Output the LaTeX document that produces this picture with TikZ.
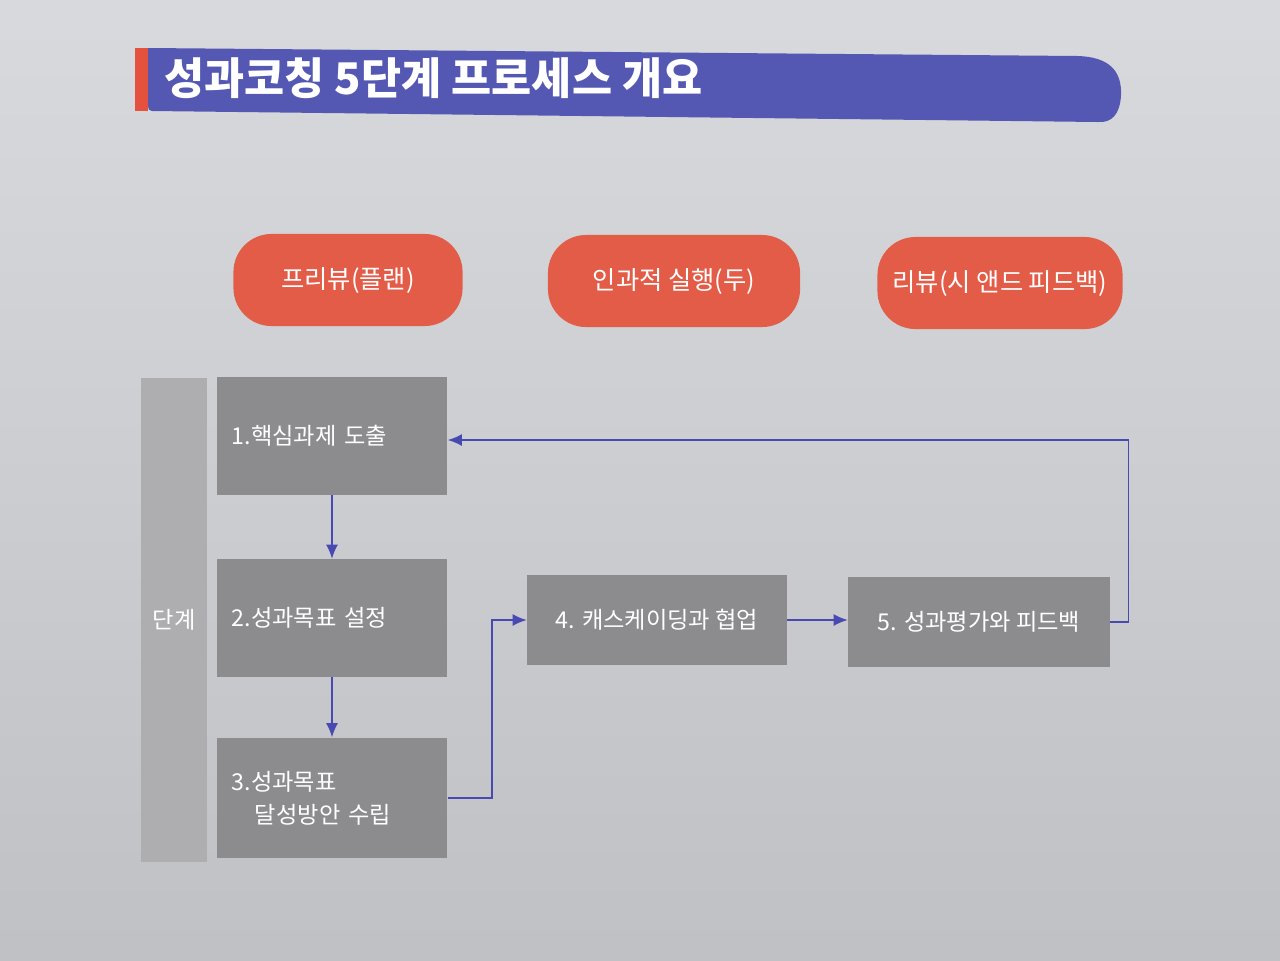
\documentclass[tikz,border=0pt]{standalone}
\usepackage{fontspec}
\newfontfamily\krfont{Noto Sans CJK KR}
\usetikzlibrary{arrows.meta,positioning,shapes}

\definecolor{pagegray}{RGB}{203,205,209}
\definecolor{titleblue}{RGB}{84,88,178}
\definecolor{stripered}{RGB}{228,82,62}
\definecolor{pillred}{RGB}{226,92,72}
\definecolor{stepgray}{RGB}{140,140,143}
\definecolor{colgray}{RGB}{174,174,177}
\definecolor{arrowblue}{RGB}{72,74,178}

\begin{document}
\begin{tikzpicture}[x=0.01cm, y=-0.01cm,
    phase/.style={fill=pillred, rounded corners=0.38cm, minimum height=0.92cm,
                  text=white, font=\krfont\fontsize{7.2pt}{8.6pt}\selectfont},
    stepbox/.style={fill=stepgray, text=white, inner sep=0pt,
                    font=\krfont\fontsize{6.6pt}{9.4pt}\selectfont},
    leftbox/.style={stepbox, align=left, text width=2.0cm, inner xsep=0.15cm,
                    minimum width=2.3cm},
    flow/.style={arrowblue, line width=0.45pt, -{Latex[length=4pt,width=3.4pt]}}]
    \useasboundingbox (0,0) rectangle (1280,960);
    \fill[top color=pagegray!75!white, bottom color=pagegray!94!black] (0,0) rectangle (1280,960);

    % title bar
    \fill[titleblue] (148,48) -- (1078,56) .. controls (1108,57) and (1122,70) .. (1121,95)
        .. controls (1120,114) and (1112,123) .. (1098,122) -- (152,111)
        .. controls (149,111) and (148,109) .. (148,106) -- cycle;
    \fill[stripered] (135,48) rectangle (148,111);
    \node[anchor=west, text=white, font=\krfont\bfseries\fontsize{12.4pt}{14pt}\selectfont]
        (title) at (152,78) {성과코칭 5단계 프로세스 개요};

    % phases
    \node[phase, minimum width=2.29cm] (plan) at (348,280) {프리뷰(플랜)};
    \node[phase, minimum width=2.52cm] (do)   at (674,281) {인과적 실행(두)};
    \node[phase, minimum width=2.45cm] (see)  at (1000,283) {리뷰(시 앤드 피드백)};

    % steps
    \node[fill=colgray, minimum width=0.62cm, minimum height=4.84cm, text=white,
          font=\krfont\fontsize{6.6pt}{8pt}\selectfont] (stage) at (174,620) {단계};
    \node[leftbox, minimum height=1.17cm] (s1) at (332,436) {1.핵심과제 도출};
    \node[leftbox, minimum height=1.17cm] (s2) at (332,618) {2.성과목표 설정};
    \node[leftbox, minimum height=1.2cm] (s3) at (332,798)
        {3.성과목표\\\hspace{0.23cm}달성방안 수립};
    \node[stepbox, minimum width=2.59cm, minimum height=0.9cm] (s4) at (657,620) {4. 캐스케이딩과 협업};
    \node[stepbox, minimum width=2.61cm, minimum height=0.9cm] (s5) at (979,622) {5. 성과평가와 피드백};

    \draw[flow] (s1) -- (s2);
    \draw[flow] (s2) -- (s3);
    \draw[flow] (s3.east) -- ++(44,0) |- (s4.west);
    \draw[flow] (s4.east) -- (s4.east -| s5.west);
    \draw[flow] (s5.east) -- ++(18,0) |- ([yshift=-0.04cm]s1.east);
\end{tikzpicture}
\end{document}
